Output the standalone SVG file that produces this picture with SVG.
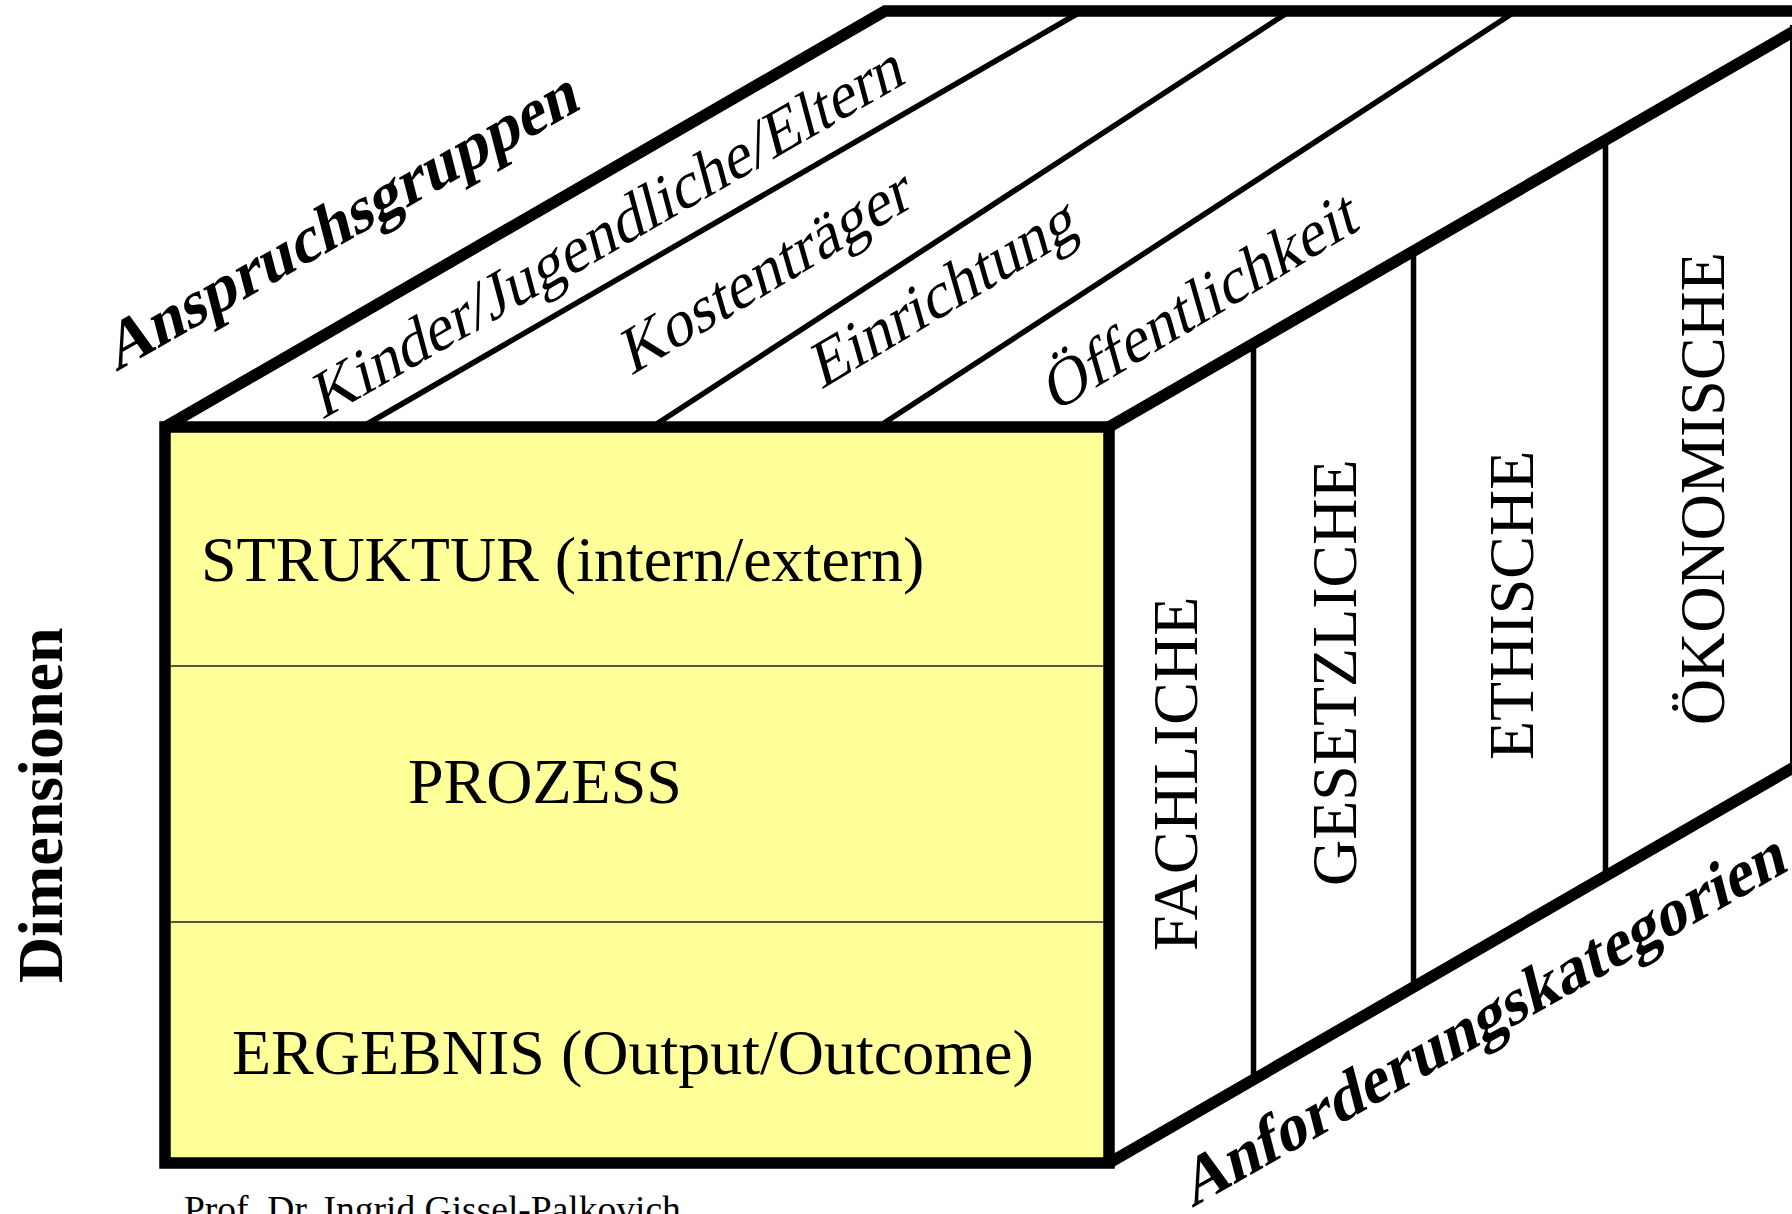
<svg xmlns="http://www.w3.org/2000/svg" width="1792" height="1214" viewBox="0 0 1792 1214">
<style>
.thick{fill:none;stroke:#000;stroke-width:11.5;stroke-linejoin:miter;stroke-miterlimit:10}
.thin{fill:none;stroke:#000;stroke-width:5.5}
.div{fill:none;stroke:#222;stroke-width:1.5}
.t{font-family:"Liberation Serif","Times New Roman",serif;fill:#000}
.r64{font-size:64px}
.i64{font-size:64px}
.bi{font-size:65px;font-weight:bold}
.b64{font-size:64px;font-weight:bold}
</style>
<rect width="1792" height="1214" fill="#fff"/>
<g id="connectors">
  <line class="thin" x1="362" y1="427" x2="1082" y2="11"/>
  <line class="thin" x1="652" y1="427" x2="1290" y2="11"/>
  <line class="thin" x1="878" y1="427" x2="1516" y2="11"/>
  <line class="thin" x1="1253.5" y1="340" x2="1253.5" y2="1083"/>
  <line class="thin" x1="1413.5" y1="248" x2="1413.5" y2="990"/>
  <line class="thin" x1="1605.5" y1="137" x2="1605.5" y2="879"/>
  <line x1="1791" y1="25" x2="1791" y2="766" stroke="#000" stroke-width="2"/>
  <path class="thick" d="M165,427 L885,11 L1810,11"/>
  <line class="thick" x1="1109" y1="427" x2="1829" y2="11"/>
  <line class="thick" x1="1109" y1="1163" x2="1829" y2="747"/>
</g>
<g id="front">
  <rect x="165" y="427" width="944" height="736" fill="#FFFF99" stroke="#000" stroke-width="11.5"/>
  <line class="div" x1="171" y1="666" x2="1103" y2="666"/>
  <line class="div" x1="171" y1="922" x2="1103" y2="922"/>
  <text class="t r64" x="201" y="581">STRUKTUR (intern/extern)</text>
  <text class="t r64" x="408" y="803">PROZESS</text>
  <text class="t r64" x="232" y="1074">ERGEBNIS (Output/Outcome)</text>
</g>
<g id="top-face">
  <text class="t bi" transform="translate(116,372) rotate(-29.5) skewX(-15)">Anspruchsgruppen</text>
  <text class="t i64" transform="translate(322,420) rotate(-30) skewX(-15)">Kinder/Jugendliche/Eltern</text>
  <text class="t i64" transform="translate(631,376) rotate(-31) skewX(-15)">Kostenträger</text>
  <text class="t i64" transform="translate(821,390) rotate(-31) skewX(-15)">Einrichtung</text>
  <text class="t i64" transform="translate(1054,413) rotate(-31) skewX(-15)">Öffentlichkeit</text>
</g>
<g id="right-face">
  <text class="t r64" transform="translate(1197,951) rotate(-90)">FACHLICHE</text>
  <text class="t r64" transform="translate(1356,886) rotate(-90)">GESETZLICHE</text>
  <text class="t r64" transform="translate(1533,760) rotate(-90)">ETHISCHE</text>
  <text class="t r64" transform="translate(1724,725) rotate(-90)">ÖKONOMISCHE</text>
  <text class="t bi" font-size="64" transform="translate(1192,1208) rotate(-29.5) skewX(-15)">Anforderungskategorien</text>
</g>
<g id="labels">
  <text class="t b64" transform="translate(62,983) rotate(-90)">Dimensionen</text>
  <text class="t" x="184" y="1222" font-size="37.5">Prof. Dr. Ingrid Gissel-Palkovich</text>
</g>
</svg>
